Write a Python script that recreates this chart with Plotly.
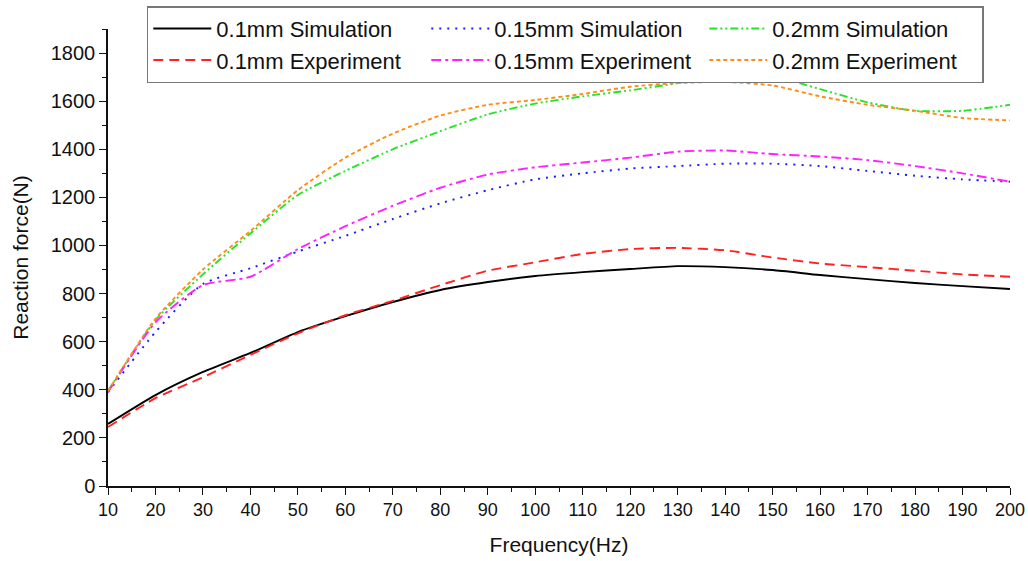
import plotly.graph_objects as go

# Excitation frequency (Hz)
freq = [10, 20, 30, 40, 50, 60, 70, 80, 90, 100,
        110, 120, 130, 140, 150, 160, 170, 180, 190, 200]

# Reaction force (N) per gap size
sim_01 = [258, 378, 474, 553, 640, 706, 765, 815, 848, 873,
          889, 902, 914, 910, 898, 877, 860, 844, 831, 819]
exp_01 = [245, 365, 452, 545, 635, 710, 770, 835, 895, 930,
          965, 985, 990, 980, 950, 925, 910, 895, 880, 870]
sim_015 = [390, 640, 840, 905, 975, 1040, 1110, 1175, 1230, 1275,
           1300, 1320, 1330, 1340, 1340, 1330, 1310, 1290, 1275, 1265]
exp_015 = [390, 680, 835, 870, 985, 1080, 1165, 1240, 1295, 1325,
           1345, 1365, 1390, 1395, 1380, 1370, 1355, 1330, 1300, 1265]
sim_02 = [395, 690, 880, 1050, 1210, 1310, 1400, 1475, 1545, 1590,
          1620, 1645, 1675, 1715, 1705, 1650, 1595, 1560, 1560, 1585]
exp_02 = [395, 695, 900, 1060, 1230, 1365, 1465, 1540, 1585, 1605,
          1630, 1660, 1675, 1680, 1665, 1620, 1585, 1560, 1530, 1520]

series = [
    ("0.1mm Simulation", sim_01, "#000000", "solid"),
    ("0.15mm Simulation", sim_015, "#1a1aff", "2px,6px"),
    ("0.2mm Simulation", sim_02, "#22e622", "8px,3px,2px,3px,2px,3px"),
    ("0.1mm Experiment", exp_01, "#ff2020", "10px,6px"),
    ("0.15mm Experiment", exp_015, "#ff22ff", "10px,4px,3px,4px"),
    ("0.2mm Experiment", exp_02, "#ff8c1a", "4px,3px"),
]

fig = go.Figure()
for name, vals, color, dash in series:
    fig.add_trace(go.Scatter(
        x=freq, y=vals, name=name, mode="lines",
        line=dict(color=color, width=1.9, dash=dash,
                  shape="spline", smoothing=0.6),
    ))

font = "Liberation Sans, Arial, sans-serif"

fig.update_layout(
    width=1028, height=561,
    margin=dict(l=108, r=18, t=29, b=75, autoexpand=False),
    paper_bgcolor="white", plot_bgcolor="white",
    font=dict(family=font, color="#111111"),
    showlegend=True,
    legend=dict(
        orientation="h", x=0.043, y=1.05, xanchor="left", yanchor="top",
        entrywidth=205, entrywidthmode="pixels",
        font=dict(size=22, family=font),
        bordercolor="#777777", borderwidth=1.5, bgcolor="white",
        tracegroupgap=0, itemwidth=58,
    ),
    xaxis=dict(
        range=[10, 200], tickmode="linear", tick0=10, dtick=10,
        automargin=False,
        showgrid=False, zeroline=False,
        showline=True, linecolor="#111111", linewidth=1.5,
        ticks="outside", ticklen=7, tickwidth=1.3, tickcolor="#111111",
        minor=dict(dtick=5, ticks="outside", ticklen=4, tickwidth=1.2,
                   tickcolor="#111111", showgrid=False),
        tickfont=dict(size=18, family=font),
        title=dict(text="Frequency(Hz)", font=dict(size=21, family=font),
                   standoff=18),
    ),
    yaxis=dict(
        range=[0, 1900], tickmode="linear", tick0=0, dtick=200,
        automargin=False,
        showgrid=False, zeroline=False,
        showline=True, linecolor="#111111", linewidth=1.5,
        ticks="outside", ticklen=7, tickwidth=1.3, tickcolor="#111111",
        minor=dict(dtick=100, ticks="outside", ticklen=4, tickwidth=1.2,
                   tickcolor="#111111", showgrid=False),
        tickfont=dict(size=20, family=font),
        title=dict(text="Reaction force(N)", font=dict(size=21, family=font),
                   standoff=16),
    ),
)

fig.write_html("out.html")
